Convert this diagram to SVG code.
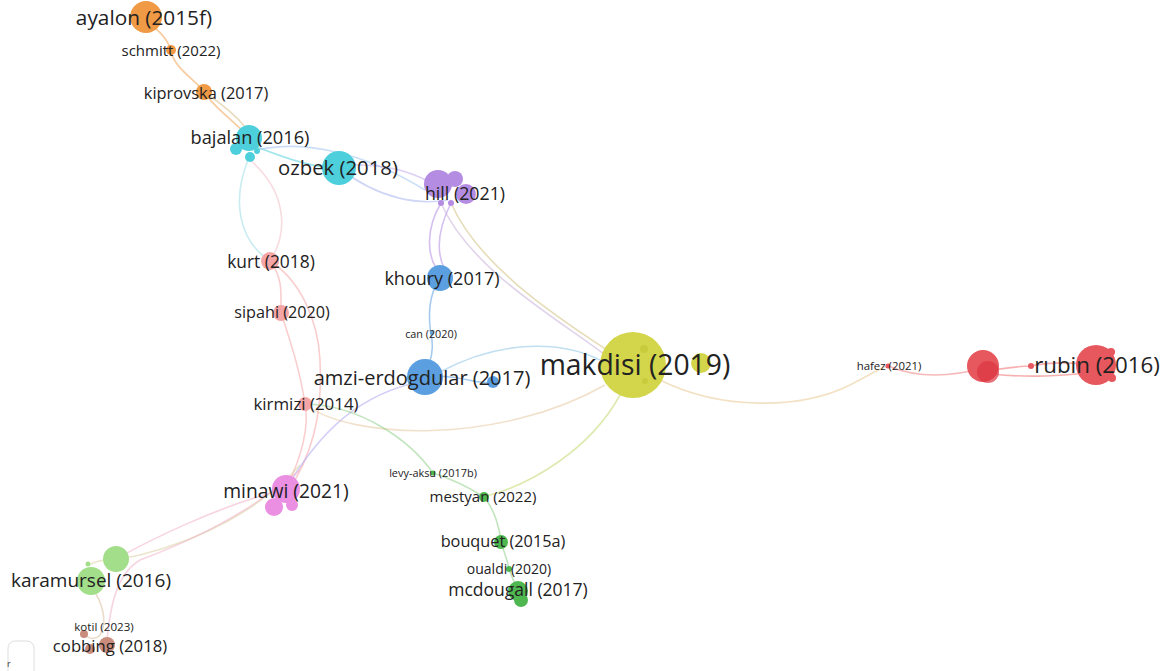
<svg xmlns="http://www.w3.org/2000/svg" width="1162" height="671" viewBox="0 0 1162 671">
<style>
.lbl{font-family:"Open Sans","Noto Sans",sans-serif;fill:#222;text-anchor:middle;dominant-baseline:central}
.e{fill:none;stroke-width:1.6;opacity:0.55}
.or{fill:#f09a45}.cy{fill:#4dcfdc}.pu{fill:#b48de2}.bl{fill:#5b9fe0}.ye{fill:#d3d64a}.re{fill:#e6575e}.pk{fill:#f5a5a5}.mg{fill:#ea8fe2}.gr{fill:#4fb74f}.lg{fill:#a3df8b}.br{fill:#c98c7d}
</style>
<rect width="1162" height="671" fill="#ffffff"/>
<g id="connectors">
<path class="e" stroke="#f0a050" d="M148,22 C165,35 170,45 171,52 C176,70 196,80 204,92 C214,108 236,122 249,138"/>
<path class="e" stroke="#d8c08a" d="M204,92 C222,104 238,118 246,128"/>
<path class="e" stroke="#4dcfdc" d="M252,145 C290,160 315,168 339,168"/>
<path class="e" stroke="#9fc4f0" d="M257,150 C300,140 360,150 425,190"/>
<path class="e" stroke="#a9b4ee" d="M339,168 C380,200 420,205 448,200"/>
<path class="e" stroke="#c0a8ec" d="M356,165 C390,165 410,172 430,182"/>
<path class="e" stroke="#9cdce4" d="M248,160 C232,200 238,240 270,261"/>
<path class="e" stroke="#f0c0c8" d="M250,160 C285,190 290,230 270,261"/>
<path class="e" stroke="#f5a5a5" d="M270,261 C285,280 280,300 281,313 C290,340 300,370 305,404 C310,430 300,460 286,489"/>
<path class="e" stroke="#f5a5a5" d="M270,261 C300,280 318,320 320,360 C322,400 318,440 295,480"/>
<path class="e" stroke="#b48de2" d="M441,203 C425,230 428,255 436,268"/>
<path class="e" stroke="#b48de2" d="M451,203 C435,235 438,255 444,268"/>
<path class="e" stroke="#c9b0d8" d="M441,203 C470,270 560,320 605,355"/>
<path class="e" stroke="#d0c080" d="M451,203 C480,270 570,325 610,352"/>
<path class="e" stroke="#5b9fe0" d="M440,278 C425,300 430,330 432,340 C434,355 428,365 425,377"/>
<path class="e" stroke="#8ec4e6" d="M440,372 C500,340 560,340 600,360"/>
<path class="e" stroke="#5b9fe0" d="M440,376 C470,378 480,385 493,382"/>
<path class="e" stroke="#b0a8ee" d="M410,384 C350,400 315,440 286,489"/>
<path class="e" stroke="#e6c8a0" d="M305,404 C350,440 500,445 605,385"/>
<path class="e" stroke="#8fd08a" d="M305,404 C360,405 410,440 433,473 C455,480 470,488 484,497 C495,510 500,530 501,542 C505,555 508,562 509,569 C512,578 516,585 518,591"/>
<path class="e" stroke="#c2d870" d="M620,395 C590,450 530,485 486,496"/>
<path class="e" stroke="#e8c890" d="M660,380 C720,410 800,410 850,385 C870,375 880,368 888,366"/>
<path class="e" stroke="#ee8080" d="M888,366 C910,375 940,380 983,368"/>
<path class="e" stroke="#ee7070" d="M990,370 C1010,368 1020,366 1031,366 C1050,362 1070,362 1090,365"/>
<path class="e" stroke="#ee7070" d="M992,374 C1030,378 1060,376 1096,372"/>
<path class="e" stroke="#f0b0c8" d="M286,489 C220,505 150,540 116,559"/>
<path class="e" stroke="#d8d0a0" d="M300,465 C260,510 200,540 140,555 C120,560 100,558 91,564"/>
<path class="e" stroke="#f0b0c8" d="M300,470 C240,520 180,545 140,560 C115,575 110,610 107,640"/>
<path class="e" stroke="#d8c0a0" d="M96,594 C105,610 106,625 100,635 C95,640 90,640 84,634"/>
</g>
<g id="n-ayalon"><circle class="or" cx="146" cy="17" r="16"/><text class="lbl" x="144" y="17" font-size="20.8">ayalon (2015f)</text></g>
<g id="n-schmitt"><circle class="or" cx="171" cy="50" r="5"/><text class="lbl" x="171" y="50" font-size="15">schmitt (2022)</text></g>
<g id="n-kiprovska"><circle class="or" cx="204" cy="92" r="8"/><text class="lbl" x="206" y="92" font-size="16.4">kiprovska (2017)</text></g>
<g id="n-bajalan"><circle class="cy" cx="249" cy="138" r="13"/><circle class="cy" cx="236" cy="149" r="6"/><circle class="cy" cx="250" cy="157" r="5"/><circle class="cy" cx="257" cy="151" r="3"/><text class="lbl" x="250" y="137" font-size="18.2">bajalan (2016)</text></g>
<g id="n-ozbek"><circle class="cy" cx="339" cy="168" r="17"/><text class="lbl" x="338" y="167" font-size="20.3">ozbek (2018)</text></g>
<g id="n-hill"><circle class="pu" cx="438" cy="184" r="14"/><circle class="pu" cx="455" cy="179" r="8"/><circle class="pu" cx="466" cy="194" r="10"/><circle class="pu" cx="441" cy="203" r="3"/><circle class="pu" cx="451" cy="203" r="3"/><text class="lbl" x="465" y="193" font-size="17.8">hill (2021)</text></g>
<g id="n-khoury"><circle class="bl" cx="440" cy="278" r="13"/><text class="lbl" x="442" y="278" font-size="18">khoury (2017)</text></g>
<g id="n-can"><circle class="bl" cx="432" cy="333" r="2"/><text class="lbl" x="431" y="333" font-size="10.8">can (2020)</text></g>
<g id="n-amzi"><circle class="bl" cx="425" cy="377" r="18"/><circle class="bl" cx="493" cy="382" r="6"/><text class="lbl" x="422" y="377" font-size="20">amzi-erdogdular (2017)</text></g>
<g id="n-makdisi"><circle class="ye" cx="633" cy="365" r="33"/><circle fill="#c8cc3c" cx="644" cy="349" r="4"/><circle fill="#c8cc3c" cx="645" cy="381" r="3"/><circle class="ye" cx="701" cy="363" r="10"/><text class="lbl" x="635" y="364" font-size="28.3">makdisi (2019)</text></g>
<g id="n-hafez"><circle class="re" cx="888" cy="366" r="2.5"/><text class="lbl" x="889" y="365" font-size="11.4">hafez (2021)</text></g>
<g id="n-red"><circle class="re" cx="983" cy="366" r="16"/><circle fill="#dc3440" opacity="0.7" cx="988" cy="372" r="11"/></g>
<g id="n-rubin"><circle class="re" cx="1096" cy="365" r="20"/><circle class="re" cx="1031" cy="366" r="3"/><circle class="re" cx="1111" cy="352" r="4"/><circle class="re" cx="1112" cy="378" r="4"/><text class="lbl" x="1097" y="364" font-size="22.3">rubin (2016)</text></g>
<g id="n-kurt"><circle class="pk" cx="270" cy="261" r="9"/><text class="lbl" x="271" y="261" font-size="17.4">kurt (2018)</text></g>
<g id="n-sipahi"><circle class="pk" cx="281" cy="313" r="8"/><text class="lbl" x="282" y="312" font-size="16.2">sipahi (2020)</text></g>
<g id="n-kirmizi"><circle class="pk" cx="305" cy="404" r="7"/><text class="lbl" x="306" y="403" font-size="16.9">kirmizi (2014)</text></g>
<g id="n-minawi"><circle class="mg" cx="286" cy="489" r="14"/><circle class="mg" cx="274" cy="507" r="9"/><circle class="mg" cx="292" cy="505" r="6"/><text class="lbl" x="286" y="490" font-size="19.3">minawi (2021)</text></g>
<g id="n-levy"><circle class="gr" cx="433" cy="473" r="2.5"/><text class="lbl" x="433" y="472" font-size="10.9">levy-aksu (2017b)</text></g>
<g id="n-mestyan"><circle class="gr" cx="484" cy="497" r="5"/><text class="lbl" x="483" y="496" font-size="15">mestyan (2022)</text></g>
<g id="n-bouquet"><circle class="gr" cx="501" cy="542" r="7"/><text class="lbl" x="503" y="541" font-size="16.3">bouquet (2015a)</text></g>
<g id="n-oualdi"><circle class="gr" cx="509" cy="569" r="3"/><text class="lbl" x="509" y="568" font-size="14">oualdi (2020)</text></g>
<g id="n-mcdougall"><circle class="gr" cx="518" cy="591" r="10"/><circle class="gr" cx="521" cy="600" r="7"/><text class="lbl" x="518" y="589" font-size="17.5">mcdougall (2017)</text></g>
<g id="n-karamursel"><circle class="lg" cx="91" cy="581" r="14"/><circle class="lg" cx="116" cy="559" r="13"/><circle class="lg" cx="88" cy="564" r="2.5"/><text class="lbl" x="91" y="580" font-size="19">karamursel (2016)</text></g>
<g id="n-kotil"><circle class="br" cx="84" cy="634" r="4"/><text class="lbl" x="104" y="626" font-size="11.6">kotil (2023)</text></g>
<g id="n-cobbing"><circle class="br" cx="107" cy="645" r="8"/><circle class="br" cx="90" cy="649" r="5"/><text class="lbl" x="110" y="645" font-size="16.7">cobbing (2018)</text></g>
<g id="legend-box"><rect x="8" y="641" width="26" height="40" rx="7" fill="#fff" stroke="#ddd" stroke-width="1"/><text x="7" y="667" font-family="Open Sans, sans-serif" font-size="9" fill="#333">r</text></g>
</svg>
